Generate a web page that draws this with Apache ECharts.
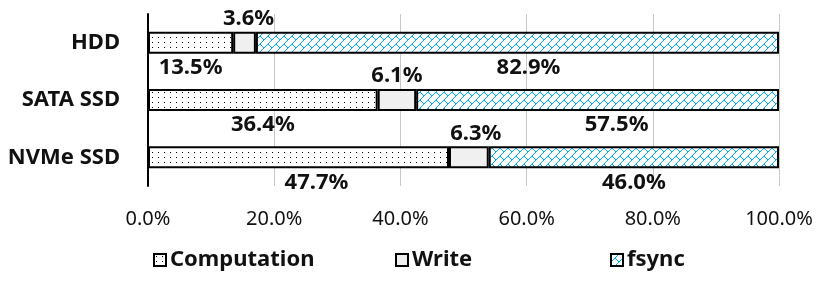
<!DOCTYPE html>
<html>
<head>
<meta charset="utf-8">
<script src="https://cdn.jsdelivr.net/npm/echarts@6/dist/echarts.min.js"></script>
<style>
html,body{margin:0;padding:0;background:#fff;}
#c{width:829px;height:287px;}
</style>
</head>
<body>
<div id="c"></div>
<script>
const categories = ['HDD', 'SATA SSD', 'NVMe SSD'];
const computation = [13.5, 36.4, 47.7];
const write = [3.6, 6.1, 6.3];
const fsync = [82.9, 57.5, 46.0];
const xTicks = [0, 20, 40, 60, 80, 100];

// label offsets (px) per category
const compOffset = [0, 0, 18];
const writeOffset = [4, 0, 7];
const fsyncOffset = [11, 19, 0];

function dotPattern() {
  const c = document.createElement('canvas');
  c.width = 6; c.height = 5;
  const g = c.getContext('2d');
  g.fillStyle = '#fff'; g.fillRect(0, 0, 6, 5);
  g.fillStyle = '#000'; g.fillRect(2, 2, 1, 1);
  return c;
}
function hatchPattern() {
  const c = document.createElement('canvas');
  c.width = 8; c.height = 8;
  const g = c.getContext('2d');
  g.fillStyle = '#fff'; g.fillRect(0, 0, 8, 8);
  g.fillStyle = '#00a8ee';
  for (let x = 0; x < 8; x++) g.fillRect(x, 7 - x, 1, 1);
  for (let x = 4; x < 8; x++) g.fillRect(x, x, 1, 1);
  return c;
}

const fmt = v => v.toFixed(1) + '%';
const labelFont = { fontFamily: 'Noto Sans', fontWeight: 'bold', fontSize: 22, color: '#111' };

function mkData(vals, offs, pos) {
  return vals.map((v, i) => ({
    value: v,
    label: { show: true, position: pos, distance: pos === 'top' ? 2 : 3, offset: [offs[i], 0], formatter: p => fmt(p.value), ...labelFont }
  }));
}

const border = { borderColor: '#000', borderWidth: 2 };
const chart = echarts.init(document.getElementById('c'));
const legendBase = {
  icon: 'rect', itemWidth: 12, itemHeight: 12, bottom: 11, itemGap: 0,
  textStyle: { fontFamily: 'Noto Sans', fontWeight: 'bold', fontSize: 22, color: '#111', padding: [0, 0, 0, -1] }
};
chart.setOption({
  animation: false,
  grid: { left: 148, right: 50, top: 14, bottom: 101 },
  xAxis: {
    type: 'value', min: 0, max: 100, interval: 20,
    axisLine: { show: false }, axisTick: { show: false },
    splitLine: { lineStyle: { color: '#c8c8c8', width: 1 } },
    axisLabel: { margin: 23, fontFamily: 'Noto Sans', fontSize: 20, color: '#111', formatter: v => xTicks.includes(v) ? fmt(v) : '' }
  },
  yAxis: {
    type: 'category', data: categories, inverse: true,
    axisLine: { lineStyle: { color: '#000', width: 2 } },
    axisTick: { show: false },
    axisLabel: { margin: 28, fontFamily: 'Noto Sans', fontWeight: 'bold', fontSize: 22, color: '#111' }
  },
  legend: [
    { ...legendBase, left: 148, data: ['Computation'] },
    { ...legendBase, left: 390, data: ['Write'] },
    { ...legendBase, left: 605, data: ['fsync'] }
  ],
  series: [
    { name: 'Computation', type: 'bar', stack: 's', barWidth: 22, data: mkData(computation, compOffset, 'bottom'),
      itemStyle: { color: { image: dotPattern(), repeat: 'repeat' }, ...border } },
    { name: 'Write', type: 'bar', stack: 's', barWidth: 22, data: mkData(write, writeOffset, 'top'),
      itemStyle: { color: '#f0f0f0', ...border } },
    { name: 'fsync', type: 'bar', stack: 's', barWidth: 22, data: mkData(fsync, fsyncOffset, 'bottom'),
      itemStyle: { color: { image: hatchPattern(), repeat: 'repeat' }, ...border } }
  ]
});
</script>
</body>
</html>
